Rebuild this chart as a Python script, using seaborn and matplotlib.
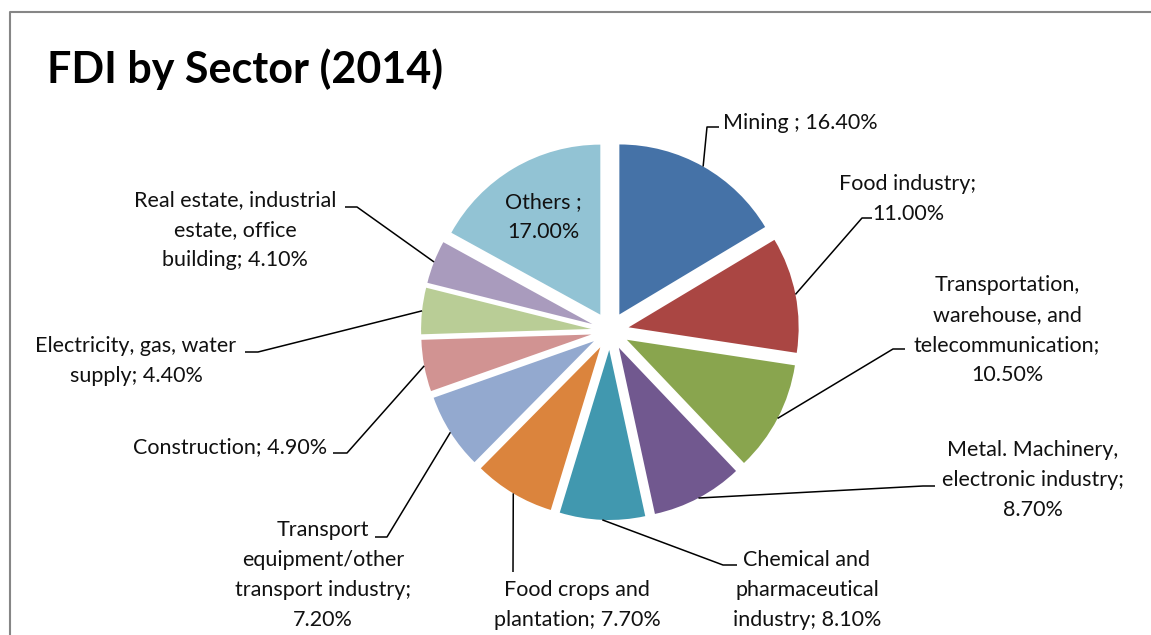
import matplotlib
matplotlib.use("Agg")
import matplotlib.pyplot as plt
import seaborn as sns
import numpy as np

# Sector shares of FDI in 2014 (percent), clockwise from 12 o'clock
sectors = [
    "Mining", "Food industry", "Transportation, warehouse, and telecommunication",
    "Metal. Machinery, electronic industry", "Chemical and pharmaceutical industry",
    "Food crops and plantation", "Transport equipment/other transport industry",
    "Construction", "Electricity, gas, water supply",
    "Real estate, industrial estate, office building", "Others",
]
shares = [16.4, 11.0, 10.5, 8.7, 8.1, 7.7, 7.2, 4.9, 4.4, 4.1, 17.0]

# Label templates (line breaks as laid out around the pie)
label_templates = [
    "Mining ; {:.2f}%",
    "Food industry;\n{:.2f}%",
    "Transportation,\nwarehouse, and\ntelecommunication;\n{:.2f}%",
    "Metal. Machinery,\nelectronic industry;\n{:.2f}%",
    "Chemical and\npharmaceutical\nindustry; {:.2f}%",
    "Food crops and\nplantation; {:.2f}%",
    "Transport\nequipment/other\ntransport industry;\n{:.2f}%",
    "Construction; {:.2f}%",
    "Electricity, gas, water\nsupply; {:.2f}%",
    "Real estate, industrial\nestate, office\nbuilding; {:.2f}%",
    "Others ;\n{:.2f}%",
]

colors = sns.color_palette([
    "#4572A7", "#AA4643", "#89A54E", "#71588F", "#4198AF", "#DB843D",
    "#93A9CF", "#D19392", "#B9CD96", "#A99BBD", "#92C3D4",
])

sns.set_theme(style="white")
plt.rcParams["font.family"] = ["Lato", "DejaVu Sans"]

W, H = 1151, 635
fig = plt.figure(figsize=(W / 100, H / 100), dpi=100)
ax = fig.add_axes([0, 0, 1, 1])

# Layout in pixel units (y grows downward)
center = (610, 331)
radius = 170
offset = 19  # radial pull-out of every wedge, same units as radius
explode = [offset] * len(shares)

wedges, _ = ax.pie(
    shares, colors=colors, explode=explode, radius=radius, center=center,
    startangle=-90, counterclock=True, frame=True,
    wedgeprops=dict(linewidth=0),
)
ax.set_xlim(0, W)
ax.set_ylim(H, 0)
ax.set_aspect("equal")
ax.axis("off")

label_fs = 15.5
spacing = 1.62
# (text x, text y, ha), elbow point, tick end (None = straight leader)
label_layout = [
    ((723, 123, "left"), (707, 127), (719, 127)),
    ((908, 199, "center"), (862, 218), (872, 218)),
    ((1007, 330, "center"), (893, 349), (905, 349)),
    ((1033, 480, "center"), (923, 486), (935, 486)),
    ((807, 590, "center"), (723, 565), (737, 565)),
    ((577, 605, "center"), (513, 572), None),
    ((323, 575, "center"), (387, 537), (375, 537)),
    ((230, 447, "center"), (347, 453), (333, 453)),
    ((136, 361, "center"), (258, 352), (245, 352)),
    ((235, 230, "center"), (357, 207), (345, 207)),
]

for i, (w, tmpl, val) in enumerate(zip(wedges, label_templates, shares)):
    text = tmpl.format(val)
    if i < len(label_layout):
        (tx, ty, ha), elbow, tick = label_layout[i]
        mid = np.deg2rad((w.theta1 + w.theta2) / 2)
        ax_pt = (w.center[0] + w.r * np.cos(mid), w.center[1] + w.r * np.sin(mid))
        xs = [ax_pt[0], elbow[0]]
        ys = [ax_pt[1], elbow[1]]
        if tick is not None:
            xs.append(tick[0])
            ys.append(tick[1])
        ax.plot(xs, ys, color="black", lw=1.1, solid_capstyle="butt")
        ax.text(tx, ty, text, ha=ha, va="center", multialignment="center",
                fontsize=label_fs, linespacing=spacing, color="#111111")
    else:
        ax.text(543, 217, text, ha="center", va="center", multialignment="center",
                fontsize=label_fs, linespacing=spacing, color="#111111")

# Title
ax.text(47, 83, "FDI by Sector (2014)", ha="left", va="baseline",
        fontsize=31, fontweight="bold", color="black")

# Chart-area border (left and top edges)
ax.plot([10, 10, W], [H, 12, 12], color="#868686", lw=1.5, clip_on=False)

fig.savefig("out.png", dpi=100, facecolor="white")
